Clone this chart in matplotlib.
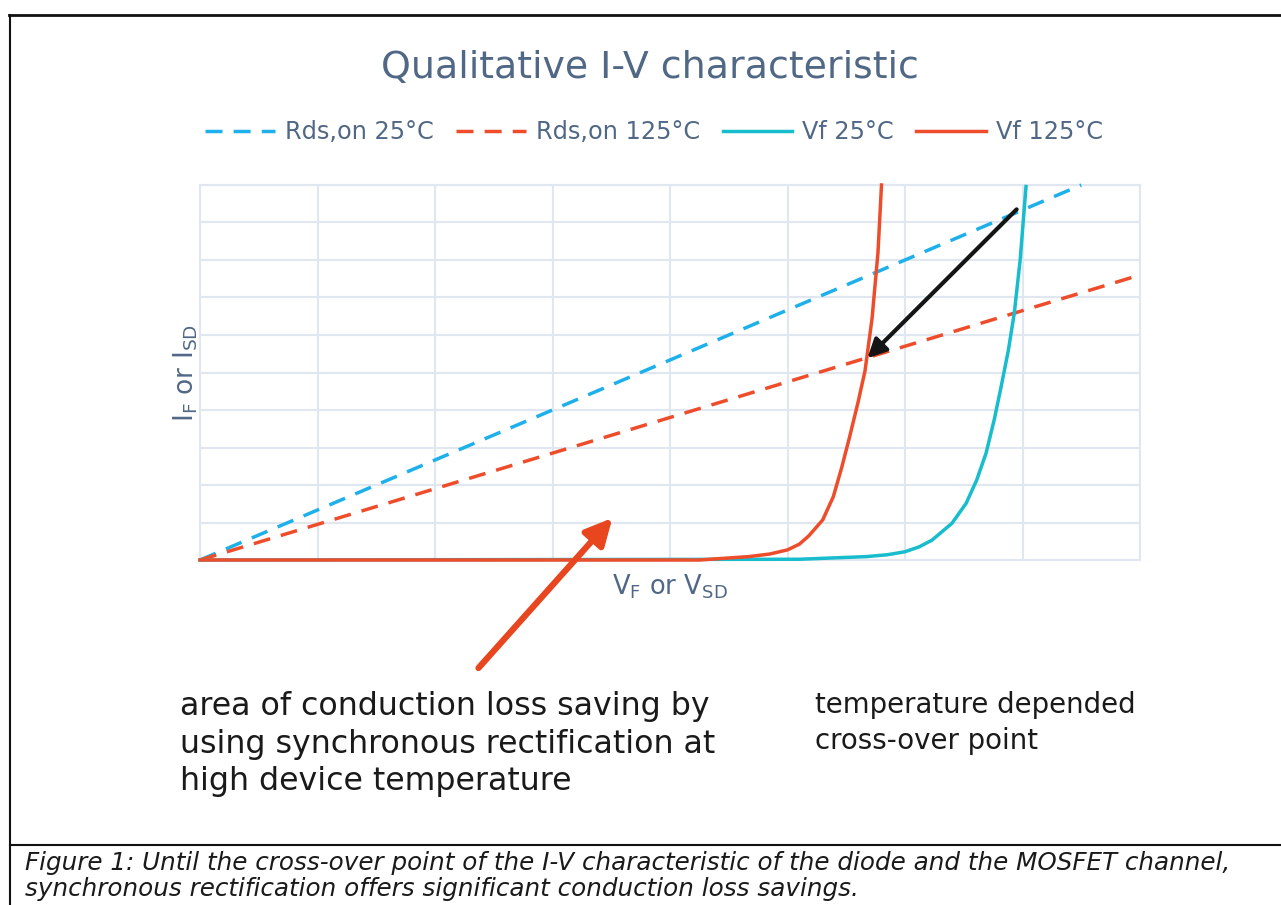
import matplotlib

matplotlib.use("Agg")
import matplotlib.pyplot as plt  # noqa: E402
from matplotlib.lines import Line2D  # noqa: E402

W, H = 1281, 905

# curves (x: 0..8 grid units, y: 0..10 grid units)
rds25_x = [0.0, 7.5]
rds25_y = [0.0, 10.0]
rds125_x = [0.0, 8.0]
rds125_y = [0.0, 7.6]
vf125_x = [0.0, 4.25, 4.67, 4.85, 5.0, 5.1, 5.18, 5.30, 5.39, 5.46, 5.53,
           5.60, 5.66, 5.72, 5.77, 5.80]
vf125_y = [0.0, 0.0, 0.09, 0.16, 0.27, 0.42, 0.64, 1.07, 1.69, 2.45, 3.3,
           4.2, 5.05, 6.45, 8.2, 10.0]
vf25_x = [0.0, 5.10, 5.67, 5.85, 6.0, 6.12, 6.23, 6.40, 6.52, 6.61, 6.69,
          6.76, 6.82, 6.88, 6.93, 6.98, 7.03]
vf25_y = [0.0, 0.02, 0.09, 0.14, 0.22, 0.35, 0.53, 0.98, 1.51, 2.13, 2.85,
          3.75, 4.65, 5.6, 6.58, 8.0, 9.96]
labels = ["Rds,on 25°C", "Rds,on 125°C", "Vf 25°C", "Vf 125°C"]

BLUE = "#1eb0ea"
RED = "#ee4d2b"
CYAN = "#17bccd"
SLATE = "#506886"
GRID = "#e0e7f1"


def fx(px):
    return px / W


def fy(py):
    return 1 - py / H


fig = plt.figure(figsize=(W / 100, H / 100), dpi=100)
ax = fig.add_axes([fx(200), fy(560), 940 / W, 375 / H])

dash = (0, (4.9, 3.2))
l1, = ax.plot(rds25_x, rds25_y, color=BLUE, lw=2.5, linestyle=dash, clip_on=False, zorder=3)
l2, = ax.plot(rds125_x, rds125_y, color=RED, lw=2.5, linestyle=dash, clip_on=False, zorder=3)
l3, = ax.plot(vf25_x, vf25_y, color=CYAN, lw=2.5, clip_on=False, zorder=4)
l4, = ax.plot(vf125_x, vf125_y, color=RED, lw=2.5, clip_on=False, zorder=5)

ax.set_xlim(0, 8)
ax.set_ylim(0, 10)
ax.set_xticks(range(0, 9))
ax.set_yticks(range(0, 11))
ax.grid(True, color=GRID, lw=1.5)
ax.tick_params(length=0, labelbottom=False, labelleft=False)
for s in ax.spines.values():
    s.set_color(GRID)
    s.set_linewidth(1.5)

ax.set_xlabel(r"V$_{\mathregular{F}}$ or V$_{\mathregular{SD}}$", fontsize=18.5,
              color=SLATE, labelpad=9)
ax.set_ylabel(r"I$_{\mathregular{F}}$ or I$_{\mathregular{SD}}$", fontsize=19,
              color=SLATE, labelpad=0)

# arrows
ax.annotate("", xy=(5.68, 5.38), xytext=(6.95, 9.35),
            arrowprops=dict(arrowstyle="-|>", color="#151515", lw=3,
                            mutation_scale=28, shrinkA=0, shrinkB=0),
            annotation_clip=False, zorder=6)
ax.annotate("", xy=(3.51, 1.12), xytext=(2.37, -2.88),
            arrowprops=dict(arrowstyle="-|>", color="#e8461f", lw=4.5,
                            mutation_scale=40, shrinkA=0, shrinkB=0),
            annotation_clip=False, zorder=6)

fig.text(fx(650), fy(68), "Qualitative I-V characteristic", fontsize=27.3,
         color=SLATE, ha="center", va="center")

fig.legend([l1, l2, l3, l4], labels, loc="center", ncol=4,
           bbox_to_anchor=(fx(654), fy(132)), frameon=False, fontsize=17.3,
           labelcolor=SLATE, handlelength=2.9, handletextpad=0.4,
           columnspacing=0.95)

fig.text(fx(180), fy(744), "area of conduction loss saving by\n"
         "using synchronous rectification at\nhigh device temperature",
         fontsize=22.8, color="#1a1a1a", ha="left", va="center",
         linespacing=1.27)
fig.text(fx(815), fy(723), "temperature depended\ncross-over point",
         fontsize=19.9, color="#1a1a1a", ha="left", va="center",
         linespacing=1.32)

fig.text(fx(25), fy(876), "Figure 1: Until the cross-over point of the I-V "
         "characteristic of the diode and the MOSFET channel,\n"
         "synchronous rectification offers significant conduction loss savings.",
         fontsize=17.7, style="italic", color="#1a1a1a", ha="left",
         va="center", linespacing=1.12)

# frame around the figure and caption separator
fig.add_artist(Line2D([fx(9), 1], [fy(15), fy(15)], color="#111", lw=2))
fig.add_artist(Line2D([fx(10), fx(10)], [fy(15), 0], color="#111", lw=1.5))
fig.add_artist(Line2D([fx(10), 1], [fy(845), fy(845)], color="#111", lw=1.5))

fig.savefig("out.png", dpi=100)
plt.close(fig)
